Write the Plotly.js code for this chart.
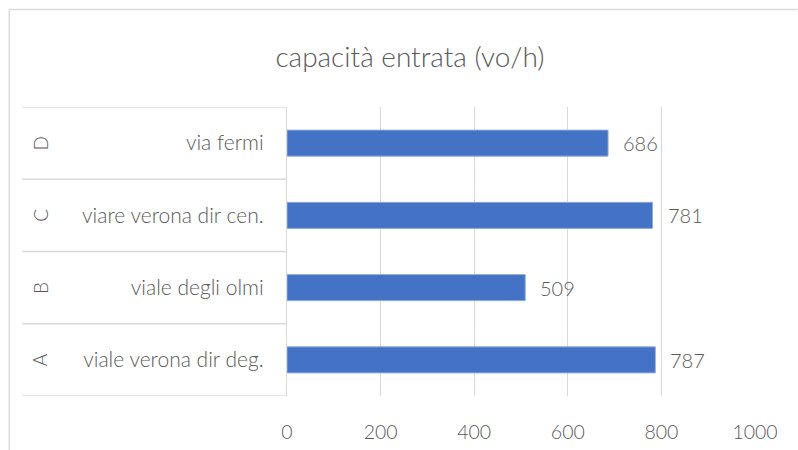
<!DOCTYPE html>
<html>
<head>
<meta charset="utf-8">
<script src="https://cdn.plot.ly/plotly-3.0.1.min.js"></script>
<style>
  html, body { margin: 0; padding: 0; background: #fff; }
  #chart { width: 798px; height: 450px; }
</style>
</head>
<body>
<div id="chart"></div>
<script>
// dati
var gruppi = ['A', 'B', 'C', 'D'];
var rami = ['viale verona dir deg.', 'viale degli olmi', 'viare verona dir cen.', 'via fermi'];
var capacita = [787, 509, 781, 686];
var tickX = [0, 200, 400, 600, 800, 1000];

var grigio = '#595959';
var linea = '#D9D9D9';
var font = 'Lato, "Open Sans", sans-serif';

// area del grafico in pixel
var W = 798, H = 450;
var L = 287, R = 755.5, T = 107, B = 396;
var pw = R - L, ph = B - T;
function px(x) { return (x - L) / pw; }
function py(y) { return (B - y) / ph; }

var trace = {
  type: 'bar',
  orientation: 'h',
  y: rami,
  x: capacita,
  marker: { color: '#4472C4', line: { color: '#8FAADC', width: 1 } },
  hoverinfo: 'x'
};

var annotations = [];
// etichette valori
for (var i = 0; i < capacita.length; i++) {
  annotations.push({
    x: capacita[i], y: rami[i], xref: 'x', yref: 'y',
    text: String(capacita[i]), showarrow: false,
    xanchor: 'left', xshift: 13,
    font: { family: font, size: 20, weight: 300, color: grigio }
  });
}
// etichette esterne ruotate
for (var j = 0; j < gruppi.length; j++) {
  annotations.push({
    x: px(40), y: rami[j], xref: 'paper', yref: 'y',
    text: gruppi[j], showarrow: false, textangle: -90,
    xanchor: 'center', yanchor: 'middle',
    font: { family: font, size: 19, weight: 300, color: grigio }
  });
}

var shapes = [];
// linee tabella categorie
for (var k = 0; k <= gruppi.length; k++) {
  shapes.push({
    type: 'line', xref: 'paper', yref: 'y',
    x0: px(22), x1: 0, y0: k - 0.5, y1: k - 0.5,
    line: { color: linea, width: 1.3 }
  });
}
// bordo esterno (sopra e sinistra)
shapes.push({ type: 'line', xref: 'paper', yref: 'paper',
  x0: px(9), x1: px(798), y0: py(9.5), y1: py(9.5),
  line: { color: linea, width: 1.5 } });
shapes.push({ type: 'line', xref: 'paper', yref: 'paper',
  x0: px(9), x1: px(9), y0: py(9.5), y1: py(460),
  line: { color: linea, width: 1.5 } });

var layout = {
  width: W, height: H,
  margin: { l: L, r: W - R, t: T, b: H - B, pad: 0 },
  paper_bgcolor: '#fff',
  plot_bgcolor: '#fff',
  showlegend: false,
  bargap: 0.64,
  title: {
    text: 'capacità entrata (vo/h)',
    font: { family: font, size: 28, weight: 300, color: grigio },
    xref: 'container', x: 410 / W, xanchor: 'center',
    yref: 'container', y: 1 - 57 / H, yanchor: 'middle'
  },
  xaxis: {
    range: [0, 1000],
    tickvals: tickX,
    ticktext: tickX.map(String),
    showgrid: true, gridcolor: linea, gridwidth: 1.3,
    zeroline: false, showline: false,
    ticks: '', ticklabelstandoff: 22,
    tickfont: { family: font, size: 19.5, weight: 300, color: grigio },
    fixedrange: true
  },
  yaxis: {
    type: 'category',
    categoryorder: 'array', categoryarray: rami,
    range: [-0.5, 3.5],
    showline: true, linecolor: linea, linewidth: 1.3,
    showgrid: false, zeroline: false,
    ticks: 'outside', ticklen: 18, tickcolor: 'rgba(0,0,0,0)',
    tickfont: { family: font, size: 21, weight: 300, color: grigio },
    fixedrange: true
  },
  annotations: annotations,
  shapes: shapes
};

Plotly.newPlot('chart', [trace], layout, { displayModeBar: false, responsive: false });
</script>
</body>
</html>
